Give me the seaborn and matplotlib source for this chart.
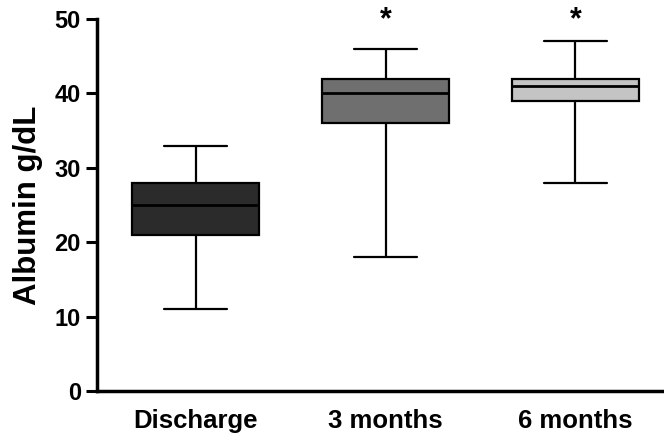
import numpy as np
import pandas as pd
import matplotlib
matplotlib.use("Agg")
import matplotlib.pyplot as plt
import seaborn as sns

# Albumin (g/dL) summary per time point: min, quartiles, max
periods = ["Discharge", "3 months", "6 months"]
mins = [11, 18, 28]
q1s = [21, 36, 39]
medians = [25, 40, 41]
q3s = [28, 42, 42]
maxs = [33, 46, 47]
significant = [False, True, True]
box_colors = ["#2b2b2b", "#6f6f6f", "#c4c4c4"]

# Five values per group reproduce the quartiles exactly (linear percentiles)
rows = []
for p, a, b, c, d, e in zip(periods, mins, q1s, medians, q3s, maxs):
    for v in (a, b, c, d, e):
        rows.append({"period": p, "albumin": v})
df = pd.DataFrame(rows)

sns.set_style("ticks")
plt.rcParams["font.family"] = ["Liberation Sans", "DejaVu Sans"]
plt.rcParams["font.weight"] = "bold"
plt.rcParams["text.color"] = "black"
plt.rcParams["axes.labelcolor"] = "black"
plt.rcParams["axes.edgecolor"] = "black"
plt.rcParams["xtick.color"] = "black"
plt.rcParams["ytick.color"] = "black"

fig = plt.figure(figsize=(6.64, 4.41), dpi=100)
ax = fig.add_axes([0.146, 0.113, 0.852, 0.844])

sns.boxplot(
    data=df, x="period", y="albumin", hue="period", order=periods,
    palette=box_colors, whis=(0, 100), width=0.67, linecolor="black",
    linewidth=1.6, showfliers=False, legend=False, ax=ax,
    medianprops={"linewidth": 2.0, "color": "black"},
)

# significance markers above the boxes
for i, sig in enumerate(significant):
    if sig:
        ax.text(i, 49.8, "*", ha="center", va="center",
                fontsize=22, fontweight="bold", clip_on=False)

ax.set_ylim(0, 50)
ax.set_xlim(-0.52, 2.46)
ax.set_yticks([0, 10, 20, 30, 40, 50])
ax.set_xlabel("")
ax.set_ylabel("Albumin g/dL", fontsize=22.5, fontweight="bold", labelpad=8)
ax.tick_params(axis="y", labelsize=17, width=2.2, length=8, direction="out")
ax.tick_params(axis="x", labelsize=18.5, length=0, pad=13)
for lab in ax.get_xticklabels() + ax.get_yticklabels():
    lab.set_fontweight("bold")
for side in ("left", "bottom"):
    ax.spines[side].set_linewidth(2.5)
for side in ("top", "right"):
    ax.spines[side].set_visible(False)

fig.savefig("out.png", dpi=100)
